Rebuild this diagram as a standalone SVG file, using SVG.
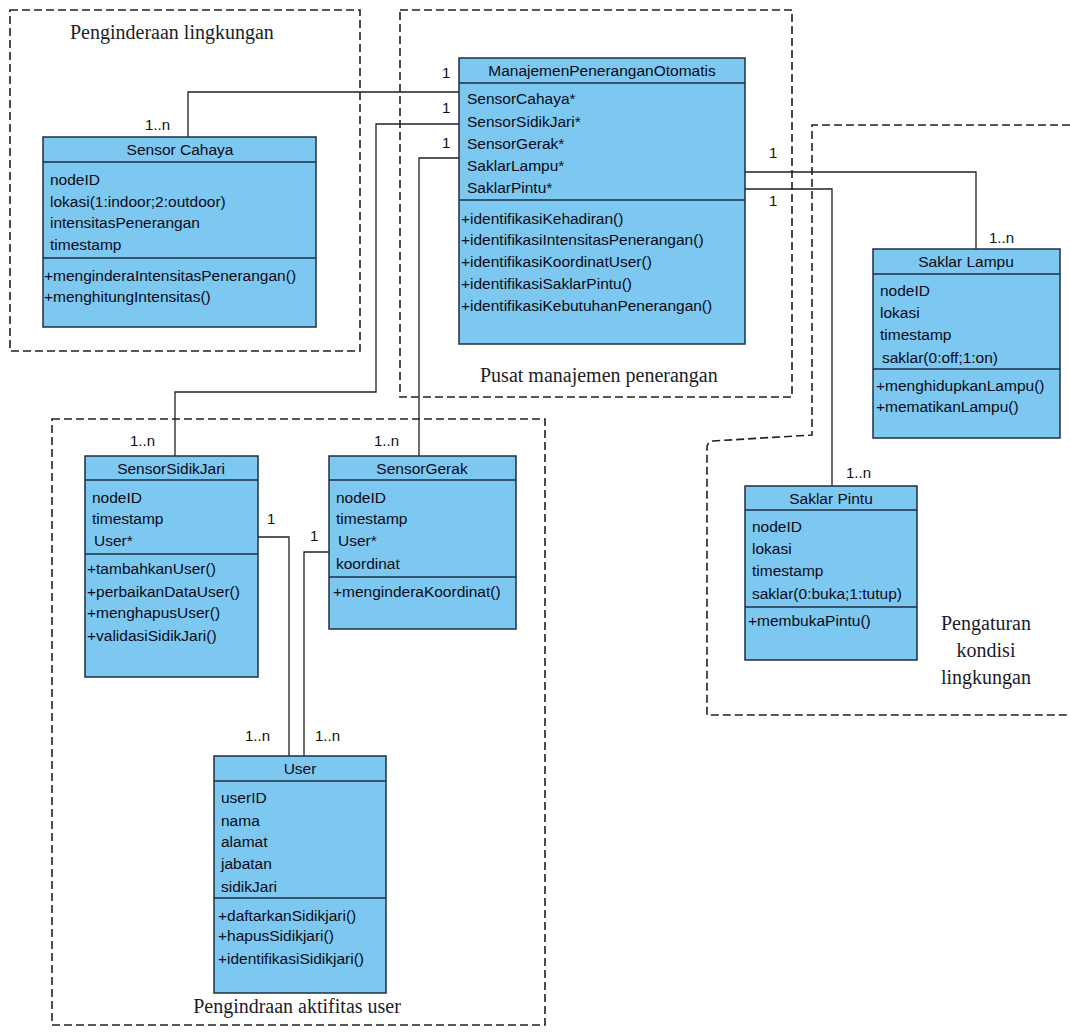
<svg xmlns="http://www.w3.org/2000/svg" width="1070" height="1032" viewBox="0 0 1070 1032">
<style>
.bg{fill:#ffffff}
.cls{fill:#7cc8f0;stroke:#1e2f44;stroke-width:1.5}
.sep{stroke:#1e2f44;stroke-width:1.5}
.t{font-family:"Liberation Sans",Arial,sans-serif;font-size:15.5px;fill:#0a0a18}
.h{font-family:"Liberation Sans",Arial,sans-serif;font-size:15.5px;fill:#0a0a18;text-anchor:middle}
.m{font-family:"Liberation Sans",Arial,sans-serif;font-size:15px;fill:#111}
.zone{fill:none;stroke:#222;stroke-width:1.6;stroke-dasharray:8 4}
.lbl{font-family:"Liberation Serif","Times New Roman",serif;font-size:20px;fill:#1c1c2a}
.c{fill:none;stroke:#222;stroke-width:1.3}
</style>
<rect class="bg" x="0" y="0" width="1070" height="1032"/>
<g id="zones">
  <rect class="zone" x="10" y="10" width="350" height="341"/>
  <rect class="zone" x="400" y="10" width="392" height="387"/>
  <path class="zone" d="M1070,125 H812 V435 L713,441 Q707,442 707,448 V715 H1070"/>
  <rect class="zone" x="52" y="419" width="493" height="606"/>
  <text class="lbl" x="70" y="39">Penginderaan lingkungan</text>
  <text class="lbl" x="480" y="382">Pusat manajemen penerangan</text>
  <text class="lbl" x="297" y="1013" text-anchor="middle">Pengindraan aktifitas user</text>
  <text class="lbl" x="986" y="630" text-anchor="middle">Pengaturan</text>
  <text class="lbl" x="986" y="657" text-anchor="middle">kondisi</text>
  <text class="lbl" x="986" y="684" text-anchor="middle">lingkungan</text>
</g>
<g id="connectors">
  <polyline class="c" points="188,137 188,92 459,92"/>
  <polyline class="c" points="459,124 376,124 376,392 175,392 175,456"/>
  <polyline class="c" points="459,158 419,158 419,456"/>
  <polyline class="c" points="745,172 976,172 976,249"/>
  <polyline class="c" points="745,189 832,189 832,486"/>
  <polyline class="c" points="258,537 289,537 289,756"/>
  <polyline class="c" points="329,552 304,552 304,756"/>
  <text class="m" x="442" y="78">1</text>
  <text class="m" x="442" y="113">1</text>
  <text class="m" x="442" y="148">1</text>
  <text class="m" x="145" y="130">1..n</text>
  <text class="m" x="130" y="446">1..n</text>
  <text class="m" x="374" y="446">1..n</text>
  <text class="m" x="769" y="158">1</text>
  <text class="m" x="769" y="206">1</text>
  <text class="m" x="989" y="243">1..n</text>
  <text class="m" x="846" y="478">1..n</text>
  <text class="m" x="267" y="524">1</text>
  <text class="m" x="310" y="541">1</text>
  <text class="m" x="245" y="741">1..n</text>
  <text class="m" x="315" y="741">1..n</text>
</g>
<g id="SensorCahaya">
  <rect class="cls" x="43" y="137" width="273" height="190"/>
  <line class="sep" x1="43" y1="162" x2="316" y2="162"/>
  <line class="sep" x1="43" y1="258" x2="316" y2="258"/>
  <text class="h" x="180" y="155">Sensor Cahaya</text>
  <text class="t" x="50" y="185">nodeID</text>
  <text class="t" x="50" y="207">lokasi(1:indoor;2:outdoor)</text>
  <text class="t" x="50" y="228">intensitasPenerangan</text>
  <text class="t" x="50" y="250">timestamp</text>
  <text class="t" x="44" y="281">+menginderaIntensitasPenerangan()</text>
  <text class="t" x="44" y="302">+menghitungIntensitas()</text>
</g>
<g id="Manajemen">
  <rect class="cls" x="459" y="58" width="286" height="286"/>
  <line class="sep" x1="459" y1="83" x2="745" y2="83"/>
  <line class="sep" x1="459" y1="200" x2="745" y2="200"/>
  <text class="h" x="602" y="76">ManajemenPeneranganOtomatis</text>
  <text class="t" x="467" y="104">SensorCahaya*</text>
  <text class="t" x="467" y="127">SensorSidikJari*</text>
  <text class="t" x="467" y="149">SensorGerak*</text>
  <text class="t" x="467" y="171">SaklarLampu*</text>
  <text class="t" x="467" y="193">SaklarPintu*</text>
  <text class="t" x="461" y="224">+identifikasiKehadiran()</text>
  <text class="t" x="461" y="245">+identifikasiIntensitasPenerangan()</text>
  <text class="t" x="461" y="267">+identifikasiKoordinatUser()</text>
  <text class="t" x="461" y="289">+identifikasiSaklarPintu()</text>
  <text class="t" x="461" y="311">+identifikasiKebutuhanPenerangan()</text>
</g>
<g id="SaklarLampu">
  <rect class="cls" x="873" y="249" width="187" height="189"/>
  <line class="sep" x1="873" y1="274" x2="1060" y2="274"/>
  <line class="sep" x1="873" y1="369" x2="1060" y2="369"/>
  <text class="h" x="966" y="267">Saklar Lampu</text>
  <text class="t" x="880" y="296">nodeID</text>
  <text class="t" x="880" y="318">lokasi</text>
  <text class="t" x="880" y="340">timestamp</text>
  <text class="t" x="882" y="363">saklar(0:off;1:on)</text>
  <text class="t" x="876" y="391">+menghidupkanLampu()</text>
  <text class="t" x="876" y="412">+mematikanLampu()</text>
</g>
<g id="SaklarPintu">
  <rect class="cls" x="745" y="486" width="172" height="174"/>
  <line class="sep" x1="745" y1="510" x2="917" y2="510"/>
  <line class="sep" x1="745" y1="607" x2="917" y2="607"/>
  <text class="h" x="831" y="504">Saklar Pintu</text>
  <text class="t" x="752" y="532">nodeID</text>
  <text class="t" x="752" y="554">lokasi</text>
  <text class="t" x="752" y="576">timestamp</text>
  <text class="t" x="752" y="599">saklar(0:buka;1:tutup)</text>
  <text class="t" x="748" y="626">+membukaPintu()</text>
</g>
<g id="SensorSidikJari">
  <rect class="cls" x="85" y="456" width="173" height="221"/>
  <line class="sep" x1="85" y1="480" x2="258" y2="480"/>
  <line class="sep" x1="85" y1="554" x2="258" y2="554"/>
  <text class="h" x="171" y="474">SensorSidikJari</text>
  <text class="t" x="92" y="503">nodeID</text>
  <text class="t" x="92" y="524">timestamp</text>
  <text class="t" x="94" y="546">User*</text>
  <text class="t" x="87" y="574">+tambahkanUser()</text>
  <text class="t" x="87" y="597">+perbaikanDataUser()</text>
  <text class="t" x="87" y="618">+menghapusUser()</text>
  <text class="t" x="87" y="641">+validasiSidikJari()</text>
</g>
<g id="SensorGerak">
  <rect class="cls" x="329" y="456" width="187" height="173"/>
  <line class="sep" x1="329" y1="480" x2="516" y2="480"/>
  <line class="sep" x1="329" y1="577" x2="516" y2="577"/>
  <text class="h" x="422" y="474">SensorGerak</text>
  <text class="t" x="336" y="503">nodeID</text>
  <text class="t" x="336" y="524">timestamp</text>
  <text class="t" x="338" y="546">User*</text>
  <text class="t" x="336" y="569">koordinat</text>
  <text class="t" x="333" y="597">+menginderaKoordinat()</text>
</g>
<g id="User">
  <rect class="cls" x="214" y="756" width="172" height="237"/>
  <line class="sep" x1="214" y1="781" x2="386" y2="781"/>
  <line class="sep" x1="214" y1="898" x2="386" y2="898"/>
  <text class="h" x="300" y="774">User</text>
  <text class="t" x="221" y="803">userID</text>
  <text class="t" x="221" y="826">nama</text>
  <text class="t" x="221" y="847">alamat</text>
  <text class="t" x="221" y="869">jabatan</text>
  <text class="t" x="221" y="892">sidikJari</text>
  <text class="t" x="218" y="921">+daftarkanSidikjari()</text>
  <text class="t" x="218" y="941">+hapusSidikjari()</text>
  <text class="t" x="218" y="964">+identifikasiSidikjari()</text>
</g>
</svg>
